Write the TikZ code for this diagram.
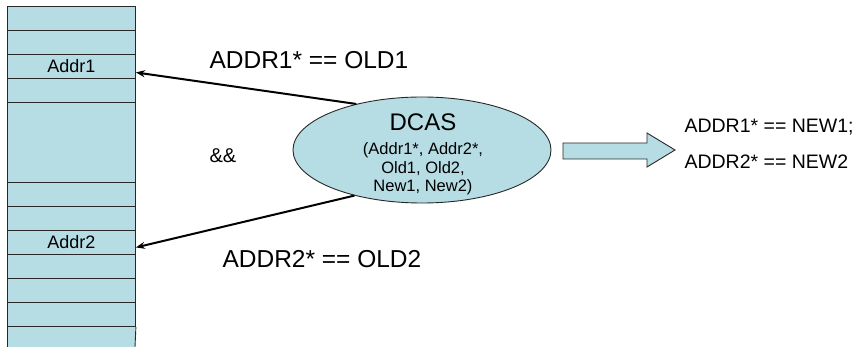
\documentclass[tikz,border=0pt]{standalone}
\usepackage{fontspec}
\setmainfont{Liberation Sans}
\usetikzlibrary{shapes.geometric,arrows.meta,calc}
\definecolor{memblue}{RGB}{183,221,228}
\definecolor{edge}{RGB}{40,40,40}
\tikzset{
  cell/.style={draw=edge, line width=0.9pt, fill=memblue, minimum width=128pt, inner sep=0pt, anchor=north west, font=\fontsize{18}{20}\selectfont},
  ptr/.style={line width=2pt, -{Stealth[length=9pt,width=7pt]}},
  big/.style={font=\fontsize{24.5}{28}\selectfont},
  res/.style={font=\fontsize{19.5}{22}\selectfont, anchor=west},
}
\begin{document}
\begin{tikzpicture}[x=1pt,y=-1pt]
\useasboundingbox (0,0) rectangle (859,347);
% memory column
\fill[memblue] (7,6) rectangle (135,347);
\node[cell, minimum height=24pt] (c1) at (7,6) {};
\node[cell, minimum height=24pt] (c2) at (7,30) {};
\node[cell, minimum height=24pt] (addr1) at (7,54) {Addr1};
\node[cell, minimum height=24pt] (c4) at (7,78) {};
\node[cell, minimum height=80pt] (c5) at (7,102) {};
\node[cell, minimum height=24pt] (c6) at (7,182) {};
\node[cell, minimum height=24pt] (c7) at (7,206) {};
\node[cell, minimum height=24pt] (addr2) at (7,230) {Addr2};
\node[cell, minimum height=24pt] (c9) at (7,254) {};
\node[cell, minimum height=24pt] (c10) at (7,278) {};
\node[cell, minimum height=24pt] (c11) at (7,302) {};
\draw[edge, line width=0.9pt] (c11.south west) -- (7,347);
\draw[edge, line width=0.9pt] (c11.south east) -- (135,347);
% DCAS ellipse
\node[ellipse, draw=edge, line width=0.9pt, fill=memblue, minimum width=258pt, minimum height=106pt, inner sep=0pt] (dcas) at (422,150) {};
\node[font=\fontsize{24}{26}\selectfont] (dcast) at (423,122) {DCAS};
\node[font=\fontsize{16.5}{18.5}\selectfont, align=center] (args) at (423,169) {(Addr1*, Addr2*,\\Old1, Old2,\\New1, New2)};
% pointers
\draw[ptr] (dcas.145) -- ([yshift=-6pt]addr1.east);
\draw[ptr] (dcas.214) -- ([yshift=-5pt]addr2.east);
% labels
\node[big, anchor=west] (l1) at (206,60) {ADDR1* == OLD1};
\node[big, anchor=west] (l2) at (219,259) {ADDR2* == OLD2};
\node[font=\fontsize{20}{22}\selectfont, anchor=west] (and) at (206,156) {\&\&};
% big arrow
\draw[edge, line width=0.9pt, fill=memblue] (563,143) -- (647,143) -- (647,133) -- (675,150) -- (647,167) -- (647,159) -- (563,159) -- cycle;
% result text
\node[res] (r1) at (681,127) {ADDR1* == NEW1;};
\node[res] (r2) at (681,162) {ADDR2* == NEW2};
\end{tikzpicture}
\end{document}
